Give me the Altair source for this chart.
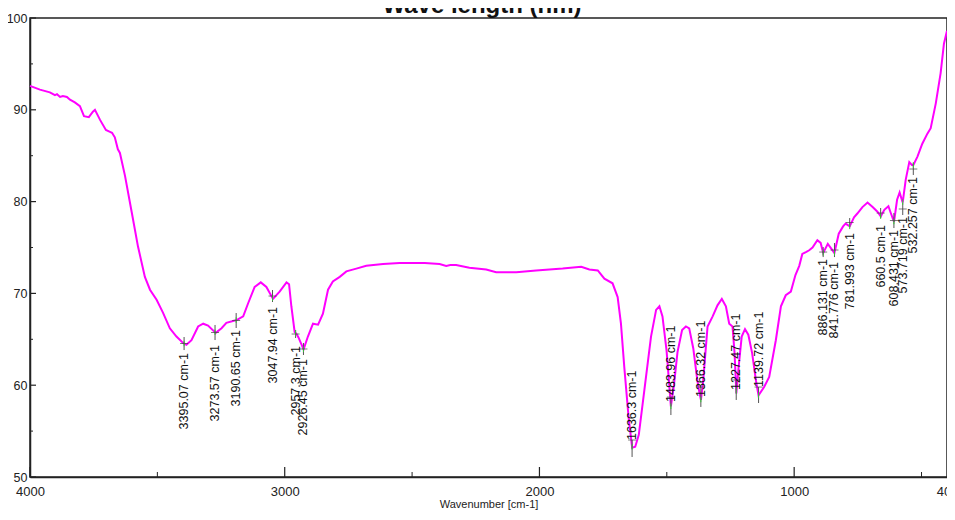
import altair as alt
import numpy as np
import pandas as pd

# ---- spectrum ----
wavenumber = [4000, 3961, 3922, 3902, 3894, 3882, 3871, 3855, 3843, 3824, 3804, 3788, 3769, 3753, 3745,
              3725, 3702, 3686, 3678, 3667, 3655, 3647, 3627, 3601, 3576, 3549, 3529, 3503, 3478, 3451,
              3425, 3399, 3386, 3366, 3340, 3320, 3301, 3271, 3248, 3229, 3189, 3163, 3144, 3118, 3094,
              3072, 3046, 3020, 2993, 2983, 2974, 2961, 2954, 2946, 2926, 2909, 2889, 2869, 2850, 2830,
              2811, 2784, 2758, 2719, 2680, 2614, 2549, 2450, 2392, 2366, 2350, 2327, 2275, 2209, 2170,
              2091, 2013, 1909, 1836, 1804, 1771, 1745, 1713, 1693, 1680, 1667, 1650, 1636, 1624, 1610,
              1588, 1562, 1542, 1529, 1517, 1501, 1492, 1484, 1472, 1458, 1440, 1425, 1412, 1396, 1380,
              1372, 1366, 1358, 1340, 1320, 1301, 1284, 1268, 1255, 1242, 1234, 1227, 1218, 1206, 1193,
              1180, 1165, 1150, 1140, 1118, 1098, 1072, 1052, 1033, 1013, 995, 980, 968, 954, 941,
              928, 909, 896, 886, 868, 855, 842, 825, 808, 798, 782, 765, 752, 732, 712,
              692, 673, 660, 646, 630, 620, 608, 596, 586, 574, 562, 548, 538, 532, 516,
              497, 477, 464, 444, 425, 412, 400]
transmittance = [92.6, 92.2, 91.9, 91.6, 91.7, 91.4, 91.5, 91.4, 91.1, 90.8, 90.4, 89.3, 89.2, 89.8, 90.0,
                 88.9, 87.8, 87.6, 87.5, 87.0, 85.7, 85.3, 82.8, 78.9, 75.1, 71.8, 70.4, 69.3, 67.9, 66.2,
                 65.3, 64.6, 64.4, 64.9, 66.4, 66.7, 66.5, 65.7, 66.2, 66.8, 67.1, 67.5, 68.9, 70.7, 71.2,
                 70.7, 69.4, 70.2, 71.2, 71.0, 68.6, 65.8, 65.6, 65.2, 63.9, 65.3, 66.7, 66.6, 67.8, 70.4,
                 71.3, 71.8, 72.4, 72.7, 73.0, 73.2, 73.3, 73.3, 73.2, 73.0, 73.1, 73.1, 72.8, 72.6, 72.3,
                 72.3, 72.5, 72.7, 72.9, 72.6, 72.5, 71.6, 71.1, 69.6, 66.7, 62.0, 56.5, 53.2, 53.3, 54.6,
                 59.5, 65.3, 68.2, 68.6, 67.5, 63.8, 60.6, 57.7, 60.0, 63.6, 66.0, 66.4, 66.2, 64.0, 60.5,
                 59.2, 58.4, 60.2, 66.4, 67.5, 68.7, 69.4, 68.6, 66.7, 66.4, 63.5, 59.1, 62.0, 65.3, 66.1,
                 65.5, 63.5, 60.5, 58.9, 59.8, 60.9, 64.9, 68.6, 69.8, 70.2, 72.0, 73.0, 74.3, 74.5, 74.7,
                 75.0, 75.8, 75.5, 74.4, 75.4, 74.9, 74.4, 76.5, 77.3, 77.6, 77.3, 78.3, 78.7, 79.4, 79.9,
                 79.4, 78.9, 78.4, 79.1, 79.5, 78.7, 77.8, 80.2, 81.0, 79.9, 82.4, 84.3, 84.0, 84.0, 84.9,
                 86.3, 87.4, 88.0, 90.7, 94.0, 97.2, 98.6]

# ---- peak annotations ----
peak_wavenumber = [3395.07, 3273.57, 3190.65, 3047.94, 2957.3, 2926.45, 1636.3, 1483.96, 1366.32,
                   1227.47, 1139.72, 886.131, 841.776, 781.993, 660.5, 608.431, 573.719, 532.257]
peak_label = ["3395.07 cm-1", "3273.57 cm-1", "3190.65 cm-1", "3047.94 cm-1", "2957.3 cm-1",
              "2926.45 cm-1", "1636.3 cm-1", "1483.96 cm-1", "1366.32 cm-1", "1227.47 cm-1",
              "1139.72 cm-1", "886.131 cm-1", "841.776 cm-1", "781.993 cm-1", "660.5 cm-1",
              "608.431 cm-1", "573.719 cm-1", "532.257 cm-1"]
tick_top = [65.25, 66.56, 67.86, 70.37, 66.01, 64.60, 54.03, 58.71, 59.80, 60.57, 59.80,
            75.05, 75.49, 78.21, 79.30, 78.76, 79.85, 84.20]
tick_bottom = [63.83, 64.92, 66.23, 69.06, 65.14, 63.29, 52.18, 56.75, 57.63, 58.39, 58.06,
               73.96, 73.96, 77.23, 78.21, 77.12, 78.54, 82.90]
label_y = [63.51, 64.38, 66.01, 68.52, 64.27, 62.85, 54.03, 58.17, 58.71, 59.48, 59.80,
           73.75, 73.42, 76.58, 77.45, 76.91, 78.32, 82.68]
label_side = ["below"] * 6 + ["above"] * 5 + ["below"] * 7

x_major = [4000, 3000, 2000, 1000]
x_minor = [3500, 2500, 1500, 500]
y_major = [50, 60, 70, 80, 90, 100]
y_minor = [55, 65, 75, 85, 95]
chart_title = ["Wave length (nm)"]

W, H = 917, 459
AX_FONT = "Liberation Sans Narrow, Arial Narrow, Liberation Sans, Arial"
TXT_FONT = "Liberation Sans, Arial"

spec = pd.DataFrame({"wn": wavenumber, "t": transmittance})
wn_sorted = np.array(wavenumber[::-1], dtype=float)
t_sorted = np.array(transmittance[::-1], dtype=float)
curve_at_peak = np.interp(peak_wavenumber, wn_sorted, t_sorted)
peaks = pd.DataFrame({
    "wn": peak_wavenumber, "label": peak_label, "top": tick_top, "bottom": tick_bottom,
    "ly": label_y, "side": label_side, "curve": curve_at_peak,
})
peaks["cross"] = np.where(peaks["side"] == "below", (peaks["top"] + peaks["bottom"]) / 2, peaks["top"])
peaks["g1"] = peaks["curve"] - 0.3
peaks["g2"] = peaks["curve"] + 0.3

xscale = alt.Scale(domain=[400, 4000], reverse=True, nice=False, zero=False)
yscale = alt.Scale(domain=[50, 100], nice=False, zero=False)

xaxis = alt.Axis(values=[4000, 3000, 2000, 1000, 400], ticks=False, format="d", grid=False,
                 labelFont=AX_FONT, labelFontSize=13, labelColor="#222", labelPadding=8,
                 labelFlush=False, labelOverlap=False,
                 domainColor="#222", domainWidth=1.5,
                 title="Wavenumber [cm-1]", titleFont=AX_FONT, titleFontSize=11,
                 titleFontWeight="normal", titleColor="#222", titlePadding=0)
yaxis = alt.Axis(values=y_major, ticks=False, grid=False, labelFont=AX_FONT, labelFontSize=12.5,
                 labelColor="#222", labelPadding=3, labelFlush=False, labelOverlap=False,
                 domainColor="#222", domainWidth=1.5, title=None)

line = alt.Chart(spec).mark_line(color="#FF00FF", strokeWidth=2).encode(
    x=alt.X("wn:Q", scale=xscale, axis=xaxis),
    y=alt.Y("t:Q", scale=yscale, axis=yaxis),
)

xt_major = alt.Chart(pd.DataFrame({"v": x_major})).mark_rule(color="#222", strokeWidth=1.2).encode(
    x=alt.X("v:Q", scale=xscale), y=alt.value(H), y2=alt.value(H - 10))
xt_minor = alt.Chart(pd.DataFrame({"v": x_minor})).mark_rule(color="#222", strokeWidth=1).encode(
    x=alt.X("v:Q", scale=xscale), y=alt.value(H), y2=alt.value(H - 5))
yt_major = alt.Chart(pd.DataFrame({"v": y_major})).mark_rule(color="#222", strokeWidth=1.2).encode(
    y=alt.Y("v:Q", scale=yscale), x=alt.value(0), x2=alt.value(6))
yt_minor = alt.Chart(pd.DataFrame({"v": y_minor})).mark_rule(color="#222", strokeWidth=1).encode(
    y=alt.Y("v:Q", scale=yscale), x=alt.value(0), x2=alt.value(3))

base = alt.Chart(peaks)
vtick = base.mark_rule(color="#555", strokeWidth=1).encode(
    x=alt.X("wn:Q", scale=xscale), y=alt.Y("top:Q", scale=yscale), y2="bottom:Q")
gtick = base.mark_rule(color="#33cc33", strokeWidth=1).encode(
    x=alt.X("wn:Q", scale=xscale), y=alt.Y("g1:Q", scale=yscale), y2="g2:Q")
cross = base.mark_tick(color="#444", orient="horizontal", size=8, thickness=1).encode(
    x=alt.X("wn:Q", scale=xscale), y=alt.Y("cross:Q", scale=yscale))
lab_below = base.transform_filter(alt.datum.side == "below").mark_text(
    angle=270, align="right", baseline="middle", font=TXT_FONT, fontSize=12.5,
    color="#111").encode(
    x=alt.X("wn:Q", scale=xscale), y=alt.Y("ly:Q", scale=yscale), text="label:N")
lab_above = base.transform_filter(alt.datum.side == "above").mark_text(
    angle=270, align="left", baseline="middle", font=TXT_FONT, fontSize=12.5,
    color="#111").encode(
    x=alt.X("wn:Q", scale=xscale), y=alt.Y("ly:Q", scale=yscale), text="label:N")

# title, partly cut off by the top edge as in the reference
title = alt.Chart(pd.DataFrame({"t": chart_title})).mark_text(
    font=TXT_FONT, fontSize=24, fontWeight="bold", color="#111",
    align="center", baseline="alphabetic").encode(
    text="t:N", x=alt.value(452), y=alt.value(-5))

chart = alt.layer(
    xt_major, xt_minor, yt_major, yt_minor, line, vtick, gtick, cross, lab_below, lab_above, title
).properties(
    width=W, height=H,
    autosize="none",
    padding={"left": 22, "top": 10, "right": 0, "bottom": 35},
    background="white",
).configure_view(stroke="#222", strokeWidth=1.5)

chart.save("out.html", embed_options={"renderer": "svg", "actions": False})
